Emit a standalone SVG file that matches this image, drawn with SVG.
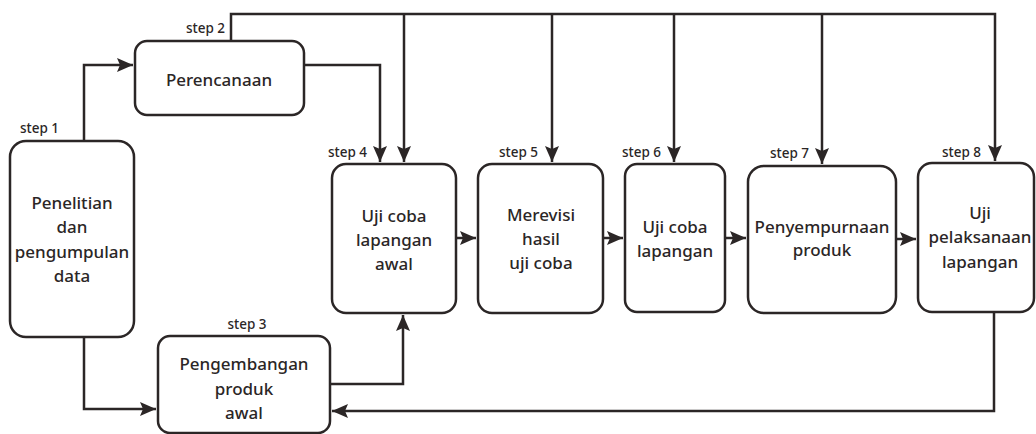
<svg xmlns="http://www.w3.org/2000/svg" width="1036" height="434" viewBox="0 0 1036 434">
<style>
.box{fill:#fff;stroke:#2b2626;stroke-width:2.5}
.t{font-family:"Noto Sans",sans-serif;font-size:17px;font-weight:500;fill:#2b2626;text-anchor:middle}
.s{font-family:"Noto Sans",sans-serif;font-size:13.5px;font-weight:500;fill:#2b2626}
.c{fill:none;stroke:#2b2626;stroke-width:2.5}
</style>
<defs>
<marker id="ah" markerUnits="userSpaceOnUse" markerWidth="17" markerHeight="14" refX="16" refY="7" orient="auto">
<path d="M0,0 L16,7 L0,14 L3,7 z" fill="#2b2626"/>
</marker>
</defs>
<rect width="1036" height="434" fill="#fff"/>
<g id="connectors">
<path class="c" d="M84,141 V65 H133" marker-end="url(#ah)"/>
<path class="c" d="M84,337 V409 H156" marker-end="url(#ah)"/>
<path class="c" d="M304,65 H380 V162" marker-end="url(#ah)"/>
<path class="c" d="M231,41 V14 H995 V161" marker-end="url(#ah)"/>
<path class="c" d="M404,14 V162" marker-end="url(#ah)"/>
<path class="c" d="M552,14 V162" marker-end="url(#ah)"/>
<path class="c" d="M674,14 V162" marker-end="url(#ah)"/>
<path class="c" d="M822,14 V164" marker-end="url(#ah)"/>
<path class="c" d="M330,384 H403 V315" marker-end="url(#ah)"/>
<path class="c" d="M456,238 H476" marker-end="url(#ah)"/>
<path class="c" d="M603,238 H623" marker-end="url(#ah)"/>
<path class="c" d="M725,238 H746" marker-end="url(#ah)"/>
<path class="c" d="M896,239 H916" marker-end="url(#ah)"/>
<path class="c" d="M994,312 V411 H332" marker-end="url(#ah)"/>
</g>
<g id="step1">
<rect class="box" x="10" y="141" width="124" height="196" rx="16"/>
<text class="s" x="20" y="133">step 1</text>
<text class="t" x="72" y="209">Penelitian</text>
<text class="t" x="72" y="233">dan</text>
<text class="t" x="72" y="258">pengumpulan</text>
<text class="t" x="72" y="282">data</text>
</g>
<g id="step2">
<rect class="box" x="135" y="41" width="169" height="74" rx="12"/>
<text class="s" x="186" y="33">step 2</text>
<text class="t" x="219" y="86">Perencanaan</text>
</g>
<g id="step3">
<rect class="box" x="158" y="336" width="172" height="97" rx="12"/>
<text class="s" x="247" y="329" text-anchor="middle">step 3</text>
<text class="t" x="244" y="370">Pengembangan</text>
<text class="t" x="244" y="395">produk</text>
<text class="t" x="244" y="419">awal</text>
</g>
<g id="step4">
<rect class="box" x="332" y="164" width="124" height="149" rx="14"/>
<text class="s" x="328" y="157">step 4</text>
<text class="t" x="394" y="222">Uji coba</text>
<text class="t" x="394" y="246">lapangan</text>
<text class="t" x="394" y="270">awal</text>
</g>
<g id="step5">
<rect class="box" x="478" y="164" width="125" height="149" rx="14"/>
<text class="s" x="499" y="157">step 5</text>
<text class="t" x="541" y="221">Merevisi</text>
<text class="t" x="541" y="245">hasil</text>
<text class="t" x="541" y="269">uji coba</text>
</g>
<g id="step6">
<rect class="box" x="625" y="164" width="100" height="148" rx="12"/>
<text class="s" x="622" y="157">step 6</text>
<text class="t" x="675" y="233">Uji coba</text>
<text class="t" x="675" y="257">lapangan</text>
</g>
<g id="step7">
<rect class="box" x="748" y="166" width="148" height="147" rx="16"/>
<text class="s" x="770" y="158">step 7</text>
<text class="t" x="822" y="233">Penyempurnaan</text>
<text class="t" x="822" y="256">produk</text>
</g>
<g id="step8">
<rect class="box" x="918" y="163" width="116" height="149" rx="14"/>
<text class="s" x="942" y="157">step 8</text>
<text class="t" x="980" y="219">Uji</text>
<text class="t" x="980" y="243">pelaksanaan</text>
<text class="t" x="980" y="268">lapangan</text>
</g>
</svg>
